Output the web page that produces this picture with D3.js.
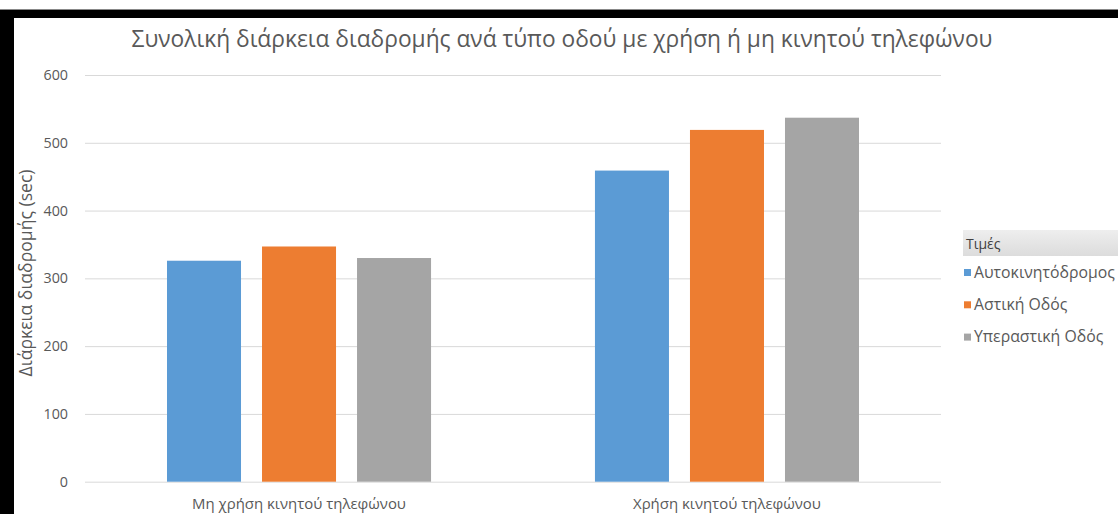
<!DOCTYPE html>
<html><head><meta charset="utf-8">
<script src="https://cdn.jsdelivr.net/npm/d3@7"></script>
<style>html,body{margin:0;padding:0;background:#fff;}svg{display:block;}</style>
</head><body>
<svg id="chart" width="1118" height="514"></svg>
<script>
const categories = ["Μη χρήση κινητού τηλεφώνου", "Χρήση κινητού τηλεφώνου"];
const seriesNames = ["Αυτοκινητόδρομος", "Αστική Οδός", "Υπεραστική Οδός"];
const seriesColors = ["#5B9BD5", "#ED7D31", "#A5A5A5"];
const autokinitodromos = [326, 459];
const astikiOdos = [347, 519];
const yperastikiOdos = [330, 537];
const yTicks = [0, 100, 200, 300, 400, 500, 600];
const titleText = "Συνολική διάρκεια διαδρομής ανά τύπο οδού με χρήση ή μη κινητού τηλεφώνου";
const yTitle = "Διάρκεια διαδρομής (sec)";
const legendTitle = "Τιμές";

const values = [autokinitodromos, astikiOdos, yperastikiOdos];
const FONT = "'Open Sans', 'Noto Sans', sans-serif";
const TXT = "#595959";

const svg = d3.select("#chart");

// frame (black borders of the screenshot)
svg.append("rect").attr("x",0).attr("y",10).attr("width",1118).attr("height",8).attr("fill","#000");
svg.append("rect").attr("x",0).attr("y",10).attr("width",14).attr("height",504).attr("fill","#000");
svg.append("line").attr("x1",0).attr("x2",1118).attr("y1",9.5).attr("y2",9.5).attr("stroke","#888");

const x0 = d3.scaleBand().domain(categories).range([85, 941]).paddingInner(0.383).paddingOuter(0.1916);
const x1 = d3.scaleBand().domain(d3.range(seriesNames.length)).range([0, x0.bandwidth()]).paddingInner(21/95);
const y = d3.scaleLinear().domain([0, 600]).range([481.7, 75]);

// gridlines
const gAxis = svg.append("g").attr("transform","translate(85,0)")
  .call(d3.axisLeft(y).tickValues(yTicks).tickSize(-856).tickPadding(17).tickFormat(d3.format("d")));
gAxis.select(".domain").remove();
gAxis.selectAll(".tick line").attr("stroke","#D9D9D9").attr("stroke-width",1);
gAxis.selectAll(".tick text").attr("fill",TXT).style("font-family",FONT).style("font-size","14.3px");

// bars
const groups = svg.append("g").selectAll("g").data(categories).join("g")
  .attr("transform", d => `translate(${x0(d)},0)`);
groups.selectAll("rect").data((c, ci) => values.map((s, si) => ({si, v: s[ci]}))).join("rect")
  .attr("x", d => x1(d.si)).attr("width", x1.bandwidth())
  .attr("y", d => y(d.v)).attr("height", d => y(0) - y(d.v))
  .attr("fill", d => seriesColors[d.si]);

// category labels
const xAxis = svg.append("g").attr("transform","translate(0,481.7)").call(d3.axisBottom(x0).tickSize(0).tickPadding(17));
xAxis.select(".domain").remove();
const xt = xAxis.selectAll(".tick text").attr("fill",TXT).style("font-family",FONT).style("font-size","13.5px");
{ const w = xt.nodes()[0].getComputedTextLength(); xt.style("font-size", (13.5*214/w).toFixed(2)+"px"); }

// title
const t = svg.append("text").attr("x",562).attr("y",47).attr("text-anchor","middle")
  .attr("fill",TXT).style("font-family",FONT).style("font-size","22px").text(titleText);
{ const w = t.node().getComputedTextLength(); t.style("font-size", (22*861/w).toFixed(2)+"px"); }

// y title
const yt = svg.append("text").attr("transform","translate(32,273) rotate(-90)").attr("text-anchor","middle")
  .attr("fill",TXT).style("font-family",FONT).style("font-size","14.5px").text(yTitle);
{ const w = yt.node().getComputedTextLength(); yt.style("font-size", (14.5*207/w).toFixed(2)+"px"); }

// legend
const defs = svg.append("defs");
const grad = defs.append("linearGradient").attr("id","lg").attr("x1",0).attr("x2",0).attr("y1",0).attr("y2",1);
grad.append("stop").attr("offset","0%").attr("stop-color","#eeeeee");
grad.append("stop").attr("offset","100%").attr("stop-color","#dcdcdc");
svg.append("rect").attr("x",963).attr("y",230).attr("width",155).attr("height",26).attr("fill","url(#lg)");
svg.append("text").attr("x",966).attr("y",249).attr("fill","#404040").style("font-family",FONT).style("font-size","14px").text(legendTitle);
const leg = svg.append("g").selectAll("g").data(seriesNames).join("g")
  .attr("transform",(d,i)=>`translate(964,${272.5 + i*32.3})`);
leg.append("rect").attr("x",0).attr("y",-3.5).attr("width",7).attr("height",7).attr("fill",(d,i)=>seriesColors[i]);
const lt = leg.append("text").attr("x",10).attr("y",5).attr("fill",TXT).style("font-family",FONT).style("font-size","13.5px").text(d=>d);
{ const w = lt.nodes()[0].getComputedTextLength(); lt.style("font-size", (13.5*141/w).toFixed(2)+"px"); }
</script>
</body></html>
